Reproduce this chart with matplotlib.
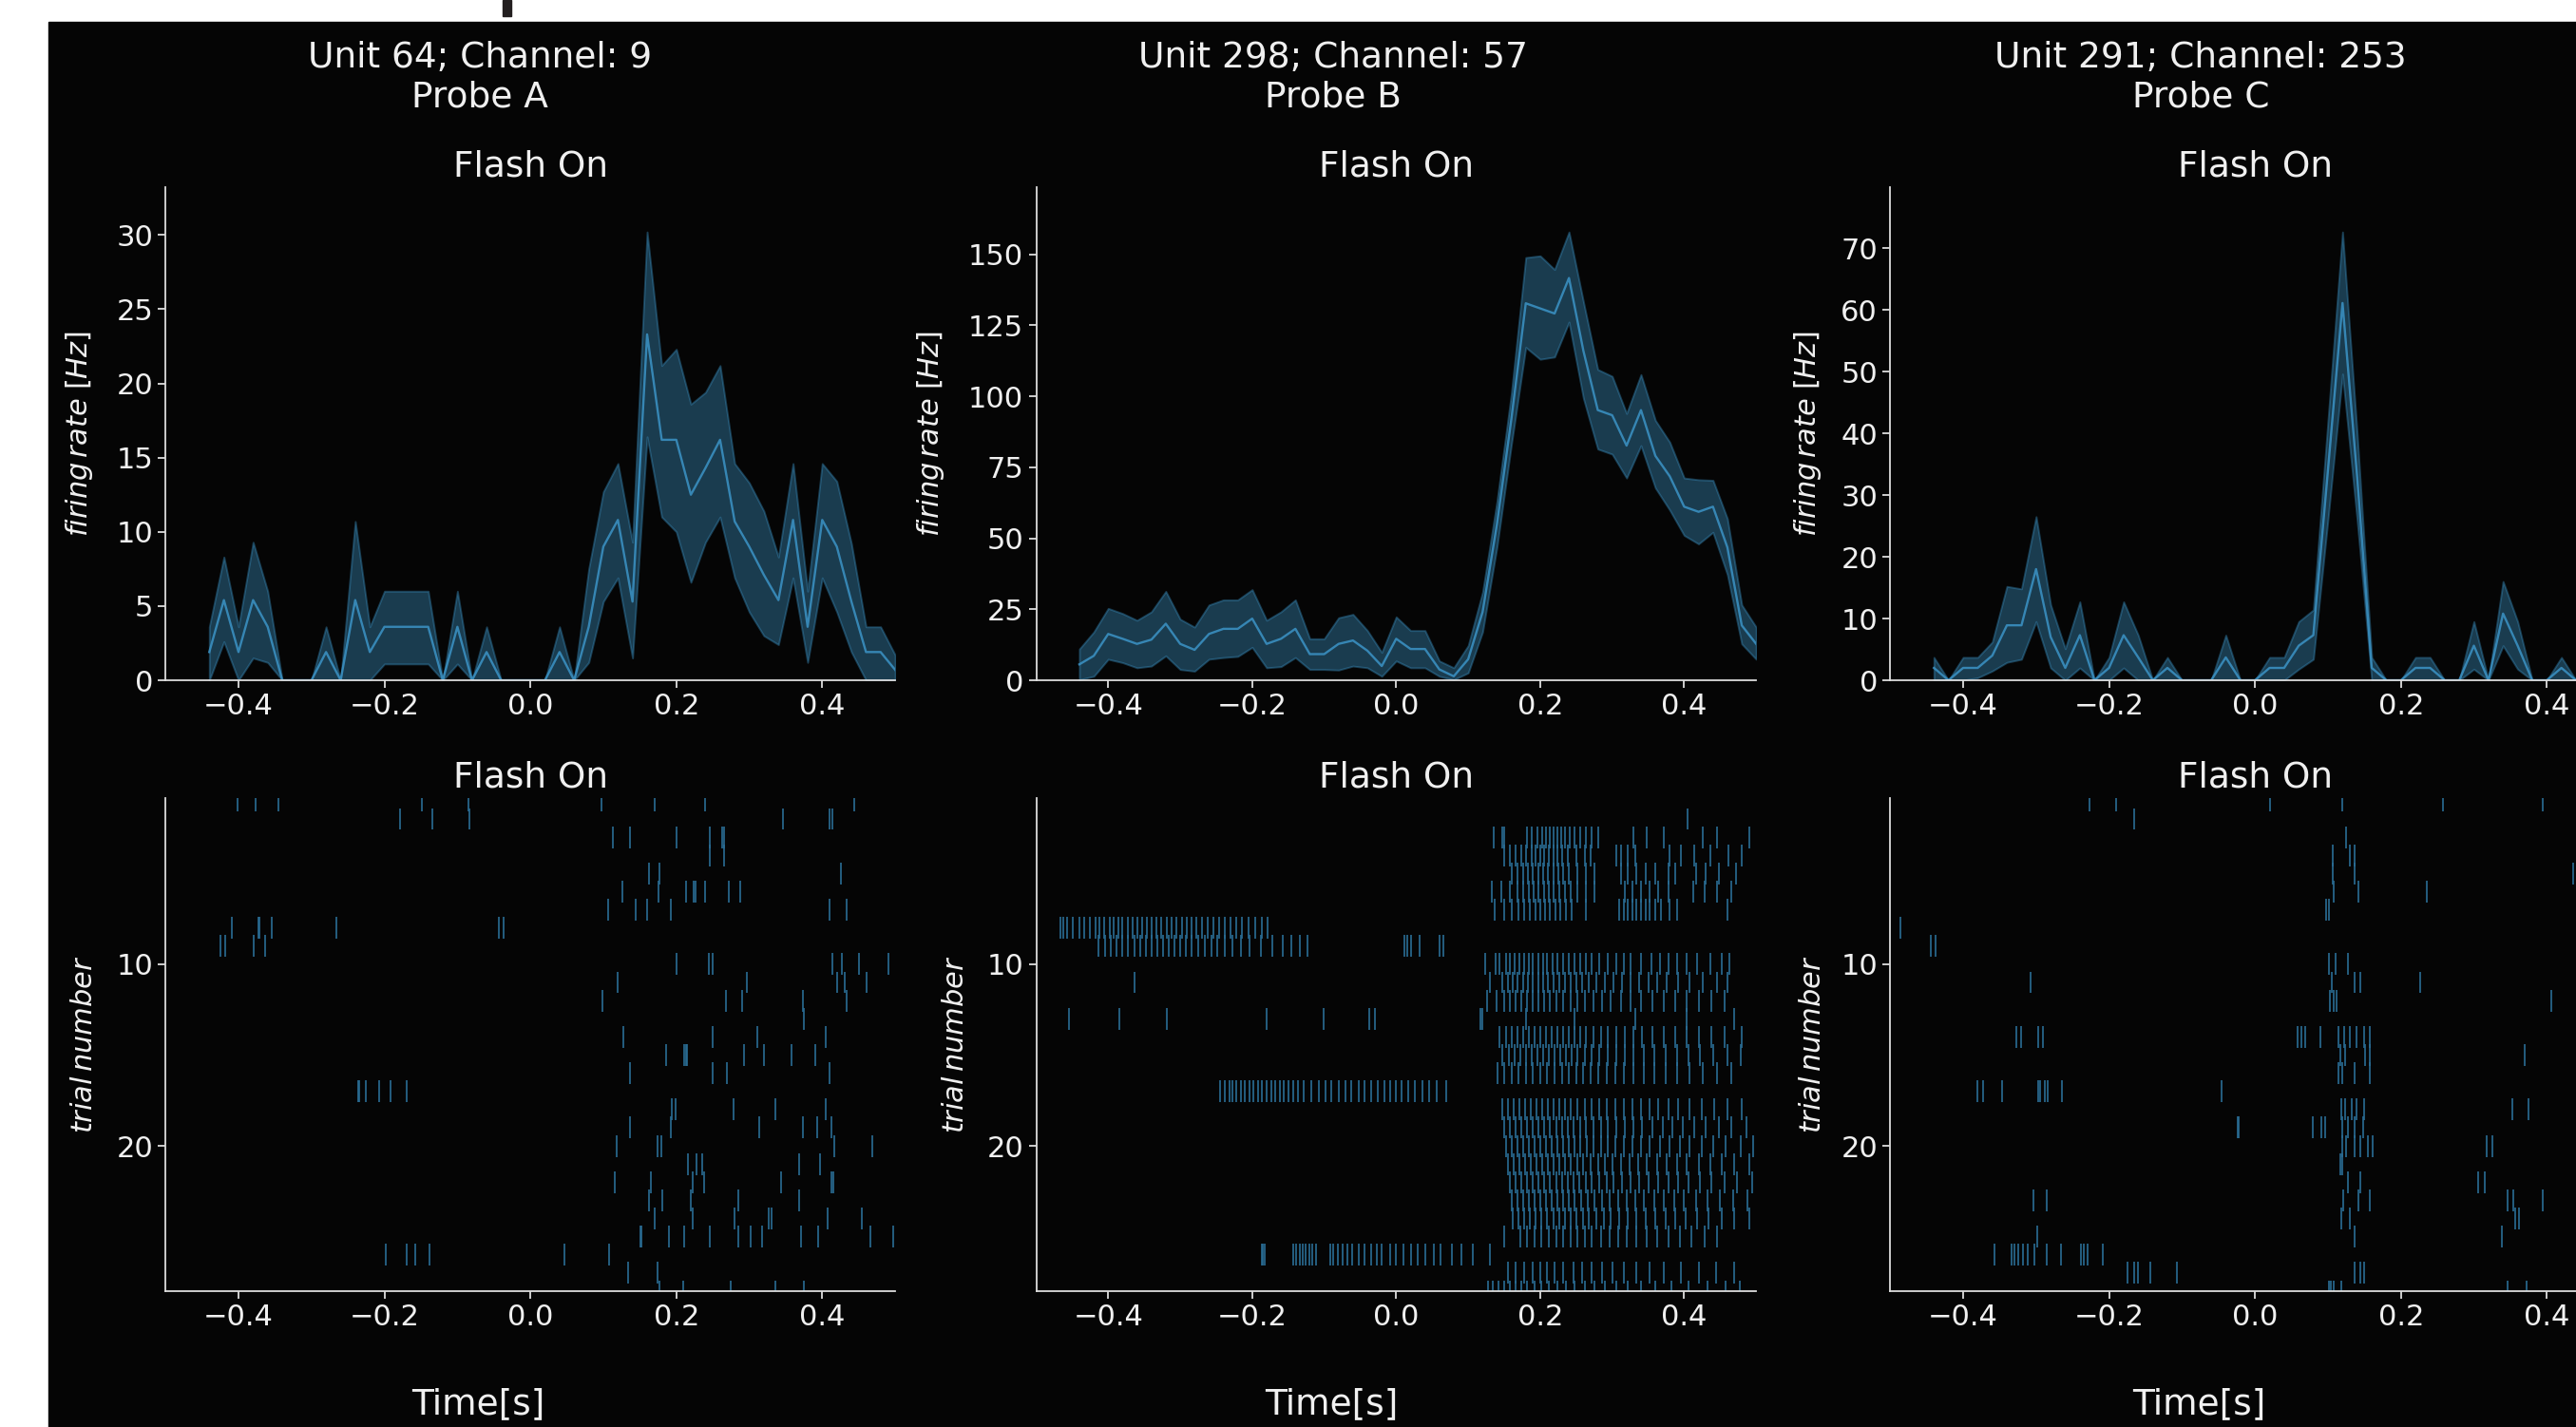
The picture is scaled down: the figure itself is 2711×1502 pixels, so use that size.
import matplotlib.pyplot as plt
from matplotlib.patches import Rectangle

# time bins of the PSTH (s)
time_s = [-0.44, -0.42, -0.40, -0.38, -0.36, -0.34, -0.32, -0.30,
          -0.28, -0.26, -0.24, -0.22, -0.20, -0.18, -0.16, -0.14,
          -0.12, -0.10, -0.08, -0.06, -0.04, -0.02, 0.00, 0.02,
          0.04, 0.06, 0.08, 0.10, 0.12, 0.14, 0.16, 0.18,
          0.20, 0.22, 0.24, 0.26, 0.28, 0.30, 0.32, 0.34,
          0.36, 0.38, 0.40, 0.42, 0.44, 0.46, 0.48, 0.50]

unit_titles = ["Unit 64; Channel: 9\nProbe A",
               "Unit 298; Channel: 57\nProbe B",
               "Unit 291; Channel: 253\nProbe C"]

rate_ticks = [[0, 5, 10, 15, 20, 25, 30],
              [0, 25, 50, 75, 100, 125, 150],
              [0, 10, 20, 30, 40, 50, 60, 70]]
time_ticks = [-0.4, -0.2, 0.0, 0.2, 0.4]
trial_ticks = [10, 20]

# firing rate (Hz): mean and band
rate_a = [1.9, 5.4, 1.9, 5.4, 3.6, 0, 0, 0,
          1.9, 0, 5.4, 1.9, 3.6, 3.6, 3.6, 3.6,
          0, 3.6, 0, 1.9, 0, 0, 0, 0,
          1.9, 0, 3.6, 9.0, 10.8, 5.3, 23.3, 16.2,
          16.2, 12.5, 14.3, 16.2, 10.7, 9.0, 7.1, 5.4,
          10.8, 3.6, 10.8, 9.0, 5.3, 1.9, 1.9, 0.7]
upper_a = [3.6, 8.3, 3.6, 9.3, 6.0, 0, 0, 0,
           3.6, 0, 10.7, 3.6, 6.0, 6.0, 6.0, 6.0,
           0, 6.0, 0, 3.6, 0, 0, 0, 0,
           3.6, 0, 7.5, 12.7, 14.6, 9.3, 30.2, 21.2,
           22.3, 18.6, 19.4, 21.2, 14.6, 13.3, 11.4, 8.3,
           14.6, 6.0, 14.6, 13.4, 9.2, 3.6, 3.6, 1.7]
lower_a = [0, 2.6, 0, 1.5, 1.2, 0, 0, 0,
           0, 0, 0, 0, 1.1, 1.1, 1.1, 1.1,
           0, 1.1, 0, 0, 0, 0, 0, 0,
           0, 0, 1.2, 5.3, 6.9, 1.5, 16.4, 11.0,
           10.0, 6.6, 9.3, 11.0, 6.9, 4.6, 3.0, 2.4,
           6.9, 1.2, 6.9, 4.6, 1.9, 0, 0, 0]

rate_b = [5.6, 8.6, 16.3, 14.6, 12.8, 14.3, 19.9, 12.8,
          10.7, 16.3, 18.1, 18.1, 21.7, 12.8, 14.6, 18.1,
          9.2, 9.2, 12.8, 14.0, 10.4, 5.0, 14.6, 11.0,
          11.0, 3.8, 1.4, 7.4, 24.0, 55.0, 92.0, 132.7,
          130.9, 129.1, 141.6, 116.0, 95.1, 93.3, 82.6, 95.1,
          79.0, 71.8, 61.1, 59.3, 61.1, 46.8, 19.3, 12.8]
upper_b = [11.0, 17.0, 25.3, 23.5, 21.1, 24.1, 31.3, 21.5,
           18.7, 26.5, 28.3, 28.3, 31.9, 21.1, 24.1, 28.3,
           14.6, 14.6, 22.0, 23.2, 17.5, 9.8, 22.3, 17.5,
           17.5, 6.8, 4.4, 12.2, 31.0, 63.0, 101.0, 148.8,
           149.4, 144.6, 157.8, 133.3, 109.4, 107.0, 93.9, 107.6,
           91.5, 83.8, 71.2, 70.6, 70.4, 56.9, 26.5, 18.7]
lower_b = [0.2, 1.4, 7.4, 6.2, 4.4, 5.0, 8.6, 3.8,
           3.2, 7.4, 8.0, 8.4, 11.6, 4.4, 4.8, 8.0,
           3.8, 3.8, 3.6, 5.0, 4.4, 1.4, 6.8, 4.4,
           4.4, 1.4, 0.2, 2.6, 17.0, 47.0, 83.0, 117.2,
           113.0, 113.8, 126.1, 99.3, 81.4, 79.6, 71.2, 82.6,
           67.7, 59.9, 51.0, 48.0, 52.1, 37.2, 12.8, 7.4]

rate_c = [2.0, 0, 2.0, 2.0, 4.0, 8.9, 8.9, 18.0,
          7.0, 2.0, 7.3, 0, 2.0, 7.3, 3.7, 0,
          2.0, 0, 0, 0, 3.7, 0, 0, 2.0,
          2.0, 5.6, 7.3, 34.0, 61.1, 33.0, 2.0, 0,
          0, 2.0, 2.0, 0, 0, 5.6, 0, 10.8,
          5.6, 0, 0, 2.0, 0, 0, 0, 0]
upper_c = [3.7, 0, 3.7, 3.7, 6.2, 15.2, 14.8, 26.5,
           12.2, 5.1, 12.7, 0, 3.7, 12.7, 7.3, 0,
           3.7, 0, 0, 0, 7.3, 0, 0, 3.7,
           3.7, 9.5, 11.4, 42.0, 72.6, 40.0, 3.7, 0,
           0, 3.7, 3.7, 0, 0, 9.5, 0, 16.0,
           9.5, 0, 0, 3.7, 0, 0, 0, 0]
lower_c = [0, 0, 0, 0.4, 1.5, 2.9, 3.4, 9.5,
           2.0, 0, 2.0, 0, 0, 2.0, 0, 0,
           0, 0, 0, 0, 0, 0, 0, 0,
           0, 1.8, 3.4, 26.0, 49.6, 26.0, 0, 0,
           0, 0, 0, 0, 0, 1.8, 0, 5.6,
           1.8, 0, 0, 0, 0, 0, 0, 0]

# spike times per trial (ms), trials 1..28
spikes_a = [
    "-401 -377 -345 -149 -85 97 170 240 444",
    "-178 -134 -83 346 410 414",
    "113 136 200 246 263 266",
    "246 265",
    "163 177 425",
    "126 175 214 224 226 240 272 288",
    "106 145 160 192 410 434",
    "-409 -373 -371 -355 -266 -43 -37",
    "-425 -418 -379 -364",
    "200 245 250 414 427 451 491",
    "120 297 421 431 461",
    "99 268 290 373 434",
    "375",
    "128 250 311 405",
    "186 211 213 215 293 320 358 390",
    "136 250 270 410",
    "-236 -234 -226 -207 -192 -170",
    "194 199 278 336 405",
    "136 192 313 373 393 413",
    "118 174 180 417 469",
    "216 228 236 368 397",
    "116 165 223 238 344 413 415",
    "162 181 220 285 368",
    "170 222 280 327 331 407 454",
    "151 152 190 211 246 285 302 318 371 395 466 497",
    "-198 -170 -158 -138 47 108",
    "134 174",
    "177 209 275 336 375",
]

spikes_b = [
    "",
    "405",
    "135 147 150 182 188 196 203 208 213 218 224 229 235 241 247 255 263 272 281 330 348 372 426 446 490",
    "150 158 166 174 181 188 194 200 206 212 218 224 231 239 250 262 270 306 312 322 332 380 396 414 436 462 480",
    "160 168 176 183 190 197 204 211 218 225 232 240 252 264 276 312 322 334 346 360 378 388 416 430 448 472",
    "133 146 158 168 176 184 191 198 205 212 219 226 234 242 252 264 276 318 328 340 352 364 378 412 428 446 466",
    "137 150 160 170 178 186 193 200 207 214 221 228 236 244 264 310 316 322 328 334 340 346 352 360 368 380 390 460",
    "-467 -462 -457 -449 -440 -434 -425 -418 -412 -405 -398 -392 -386 -380 -373 -366 -360 -353 -346 -340 -333 -326 "
    "-319 -312 -305 -298 -291 -284 -277 -270 -262 -254 -246 -238 -230 -222 -214 -205 -196 -186 -178",
    "-413 -404 -396 -388 -380 -372 -364 -356 -348 -340 -332 -324 -316 -308 -300 -292 -284 -275 -266 -257 -248 -238 "
    "-228 -216 -204 -188 -172 -158 -146 -134 -123 12 16 20 33 60 65",
    "123 138 144 152 158 164 171 178 184 190 197 204 210 217 224 232 240 248 256 264 272 282 294 306 316 326 340 354 "
    "366 378 390 404 418 436 452 463",
    "-363 130 148 155 162 169 176 183 190 197 204 211 218 226 234 242 250 258 268 278 290 302 314 326 338 350 362 376 "
    "392 408 426 446 460",
    "126 140 150 158 166 174 182 190 198 206 214 222 232 242 252 262 274 286 298 312 326 340 356 372 388 404 420 438 456",
    "-454 -385 -318 -180 -101 -38 -30 117 120 180 248 332 403 470",
    "143 152 160 168 176 184 192 200 208 216 224 232 240 248 256 264 274 284 294 306 318 330 342 356 372 388 404 420 "
    "438 456 480",
    "147 156 164 172 180 188 196 204 212 220 228 236 244 252 262 272 282 294 306 318 330 344 358 374 390 406 422 440 "
    "460 478",
    "141 150 160 170 180 190 200 210 220 230 240 250 260 270 280 292 304 316 330 344 358 374 390 408 426 446 466",
    "-244 -238 -232 -228 -222 -216 -210 -204 -198 -192 -186 -180 -174 -168 -162 -156 -150 -143 -136 -128 -118 -108 "
    "-98 -90 -80 -71 -62 -52 -44 -35 -26 -16 -8 0 8 17 26 36 46 56 69",
    "147 155 163 171 179 187 195 203 211 219 227 235 243 252 262 272 282 292 304 316 328 340 352 364 378 392 408 424 "
    "442 460 480",
    "150 158 166 174 182 190 198 206 214 222 230 238 246 255 264 274 284 294 306 318 330 342 356 370 384 398 414 430 "
    "448 466 486",
    "152 160 168 176 184 192 200 208 216 224 232 240 248 256 265 274 284 294 305 316 328 340 352 366 380 394 408 424 "
    "440 458 478 496",
    "155 163 171 179 187 195 203 211 219 227 235 243 251 260 270 280 290 300 312 324 336 348 362 376 390 404 420 436 "
    "452 470 490",
    "158 166 174 182 190 198 206 214 222 230 238 246 254 263 272 282 292 302 314 326 338 350 364 378 392 406 422 438 "
    "456 474 494",
    "160 168 176 184 192 200 208 216 224 232 240 248 257 266 276 286 296 308 320 332 344 358 372 386 400 416 432 450 "
    "468 488",
    "162 170 178 186 194 202 210 218 226 234 242 250 259 268 278 288 298 310 322 334 346 360 374 388 402 418 434 452 "
    "470 490",
    "150 172 182 192 202 212 222 232 242 252 262 272 284 296 308 320 334 348 362 378 394 410 428 446",
    "-187 -185 -182 -143 -139 -134 -130 -126 -121 -116 -111 -92 -87 -81 -75 -68 -61 -52 -44 -35 -27 -20 -8 0 10 20 "
    "30 40 52 62 78 90 106 130",
    "155 166 178 190 200 210 220 232 246 258 272 286 300 316 334 352 372 396 420 444 470",
    "127 134 142 150 158 166 174 182 192 202 212 224 236 248 262 276 290 306 322 340 360 382 406 432 458 477",
]

spikes_c = [
    "-227 -190 20 120 257 394",
    "-166",
    "125",
    "106 130 136",
    "106 137 436",
    "108 142 235",
    "98 101",
    "-486",
    "-444 -438",
    "101 110 128",
    "-308 105 136 145 226",
    "103 108 112 406",
    "",
    "-327 -321 -297 -290 59 64 69 90 115 122 130 139 150 157",
    "117 124 151 157 370",
    "115 120 137 158",
    "-381 -372 -347 -297 -294 -288 -284 -265 -46",
    "118 124 133 139 149 353 375",
    "-23 -22 79 91 96 120 127 137 148",
    "120 125 136 144 155 161 318 325",
    "117 120",
    "128 144 306 315",
    "-303 -286 121 142 158 346 354 394",
    "118 130 356 362",
    "-299 137 339",
    "-357 -334 -330 -325 -318 -311 -302 -286 -266 -238 -235 -230 -208",
    "-175 -166 -161 -144 -107 137 144 150",
    "101 104 108 118 346 372",
]

W, H = 2711, 1502
BG = '#050505'
FG = '#f0f0f0'
LINE_C = '#3a8fc0'
RASTER_C = '#2a6d95'

plt.rcParams['font.family'] = 'DejaVu Sans'

fig = plt.figure(figsize=(W / 100, H / 100), dpi=100, facecolor='white')
# dark canvas (the screenshot has a white strip on the left and top)
fig.patches.append(Rectangle((51 / W, 0), 1, 1 - 23 / H, transform=fig.transFigure,
                             color=BG, zorder=-2))
fig.patches.append(Rectangle((529 / W, 1 - 17 / H), 9 / W, 17 / H, transform=fig.transFigure,
                             color='#231f20', zorder=-2))

lefts = [174.2 / W, 1090.5 / W, 1989.2 / W]
widths = [767.9 / W, 757.7 / W, 767.9 / W]
top_y, bot_y, ax_h = (H - 716) / H, (H - 1359) / H, 519 / H
rates = [(rate_a, upper_a, lower_a), (rate_b, upper_b, lower_b), (rate_c, upper_c, lower_c)]
spikes = [spikes_a, spikes_b, spikes_c]
rate_lab_x = [-0.097, -0.125, -0.092]
trial_lab_x = [-0.093, -0.093, -0.088]
title_x = [505, 1403, 2316]


def style(ax):
    ax.set_facecolor(BG)
    for s in ['top', 'right']:
        ax.spines[s].set_visible(False)
    for s in ['left', 'bottom']:
        ax.spines[s].set_color('#dddddd')
        ax.spines[s].set_linewidth(1.3)
    ax.tick_params(colors=FG, labelsize=22, length=6, width=1.2)
    ax.set_xlim(-0.5, 0.5)
    ax.set_xticks(time_ticks)
    ax.set_title('Flash On', color=FG, fontsize=27, pad=8)


for i in range(3):
    m, up, lo = rates[i]
    ax = fig.add_axes([lefts[i], top_y, widths[i], ax_h])
    style(ax)
    ax.fill_between(time_s, lo, up, color=LINE_C, alpha=0.4, linewidth=1.4)
    ax.plot(time_s, m, color=LINE_C, lw=1.7, alpha=0.9)
    ax.set_ylim(0, 1.1 * max(up))
    ax.set_yticks(rate_ticks[i])
    ax.set_ylabel(r'$firing\,rate\ [Hz]$', color=FG, fontsize=22)
    ax.yaxis.set_label_coords(rate_lab_x[i], 0.5)

    rows = [[float(v) / 1000 for v in r.split()] for r in spikes[i]]
    ax2 = fig.add_axes([lefts[i], bot_y, widths[i], ax_h])
    style(ax2)
    ax2.eventplot(rows, lineoffsets=list(range(1, len(rows) + 1)), linelengths=1.2,
                  colors=RASTER_C, linewidths=1.2)
    ax2.set_ylim(28, 0.85)
    ax2.set_yticks(trial_ticks)
    ax2.set_ylabel(r'$trial\,number$', color=FG, fontsize=22)
    ax2.yaxis.set_label_coords(trial_lab_x[i], 0.5)

    fig.text(title_x[i] / W, 1 - 81.5 / H, unit_titles[i], color=FG, fontsize=27,
             ha='center', va='center', multialignment='center')
    fig.text((title_x[i] - 2) / W, 1 - 1478.5 / H, 'Time[s]', color=FG, fontsize=27,
             ha='center', va='center')

fig.savefig('out.png', dpi=100, facecolor=fig.get_facecolor())
